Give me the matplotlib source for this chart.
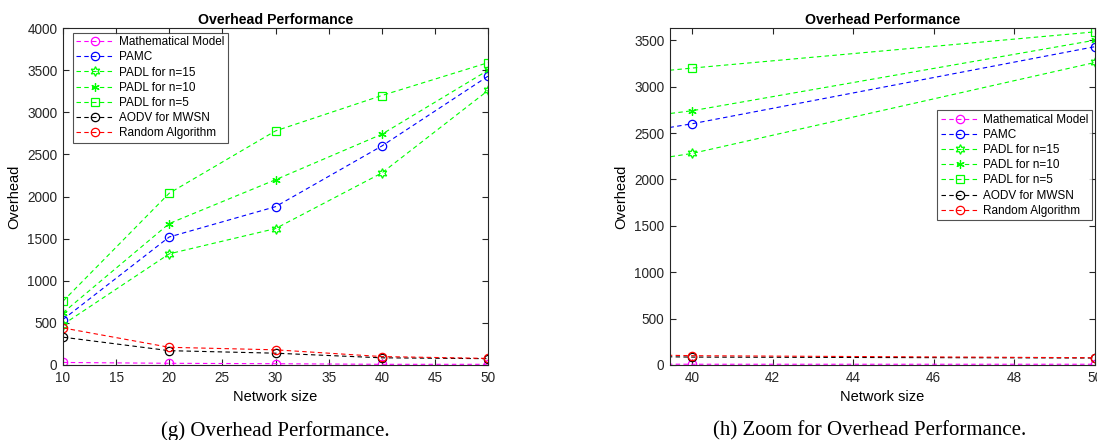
import matplotlib.pyplot as plt

# Datos
network_size = [10, 20, 30, 40, 50]
math_model = [30, 20, 15, 8, 8]
pamc = [540, 1520, 1880, 2600, 3430]
padl_15 = [480, 1320, 1620, 2280, 3260]
padl_10 = [620, 1680, 2200, 2740, 3500]
padl_5 = [757, 2040, 2780, 3200, 3590]
aodv = [330, 170, 140, 85, 75]
random_alg = [440, 210, 180, 100, 78]

hexagram = (6, 1, 0)
asterisk = (6, 2, 0)

series = [
    ('Mathematical Model', math_model, (1, 0, 1), 'o', 6),
    ('PAMC', pamc, (0, 0, 1), 'o', 6),
    ('PADL for n=15', padl_15, (0, 1, 0), hexagram, 7),
    ('PADL for n=10', padl_10, (0, 1, 0), asterisk, 6),
    ('PADL for n=5', padl_5, (0, 1, 0), 's', 5.5),
    ('AODV for MWSN', aodv, (0, 0, 0), 'o', 6),
    ('Random Algorithm', random_alg, (1, 0, 0), 'o', 6),
]

plt.rcParams['font.family'] = ['Liberation Sans', 'DejaVu Sans']
plt.rcParams['font.size'] = 9.5

fig = plt.figure(figsize=(10.97, 4.4), dpi=100)
ax1 = fig.add_axes([0.0574, 0.1705, 0.3875, 0.7655])
ax2 = fig.add_axes([0.6108, 0.1705, 0.3872, 0.7655])

def draw(ax):
    for name, vals, color, marker, ms in series:
        ax.plot(network_size, vals, linestyle='--', color=color, marker=marker,
                markerfacecolor='none', markeredgecolor=color, markersize=ms,
                linewidth=0.8, markeredgewidth=0.9, label=name, dashes=(4, 3))
    ax.set_title('Overhead Performance', fontweight='bold', fontsize=10.2, pad=3)
    ax.set_xlabel('Network size', fontsize=10.5, labelpad=4)
    ax.set_ylabel('Overhead', fontsize=10.5, labelpad=4)
    ax.tick_params(direction='in', top=True, right=True, length=4, colors='#262626',
                   labelcolor='#262626', labelsize=9.8, pad=4)
    for s in ax.spines.values():
        s.set_color('#262626')
        s.set_linewidth(0.8)

draw(ax1)
ax1.set_xlim(10, 50)
ax1.set_ylim(0, 4000)
ax1.set_xticks(range(10, 51, 5))
ax1.set_yticks(range(0, 4001, 500))
ax1.legend(loc='upper left', bbox_to_anchor=(0.02, 0.99), fontsize=8.5, handlelength=3.2,
           frameon=True, fancybox=False, edgecolor='#262626', borderpad=0.3,
           labelspacing=0.27, handletextpad=0.4, borderaxespad=0.1).get_frame().set_linewidth(0.8)

draw(ax2)
ax2.set_xlim(39.45, 50)
ax2.set_ylim(0, 3630)
ax2.set_xticks(range(40, 51, 2))
ax2.set_yticks(range(0, 3501, 500))
ax2.legend(loc='upper right', bbox_to_anchor=(0.997, 0.76), fontsize=8.5, handlelength=3.2,
           frameon=True, fancybox=False, edgecolor='#262626', borderpad=0.3,
           labelspacing=0.27, handletextpad=0.4, borderaxespad=0.1).get_frame().set_linewidth(0.8)

fig.text(0.2507, 0.021, '(g) Overhead Performance.', family='Liberation Serif',
         fontsize=15, ha='center', va='center')
fig.text(0.793, 0.021, '(h) Zoom for Overhead Performance.', family='Liberation Serif',
         fontsize=15, ha='center', va='center')

fig.savefig('out.png', dpi=100)
